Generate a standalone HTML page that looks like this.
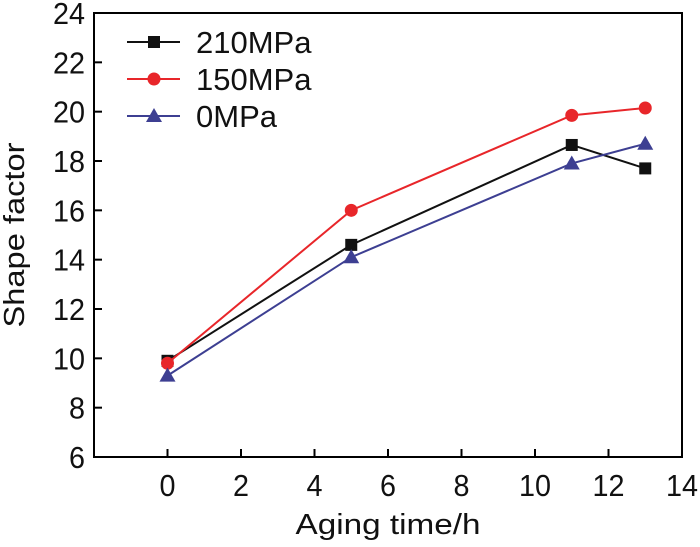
<!DOCTYPE html>
<html><head><meta charset="utf-8"><style>
body{margin:0;background:#fff;}
svg{display:block;font-family:"Liberation Sans",Arial,sans-serif;}
</style></head><body>
<svg id="chart" width="700" height="547" viewBox="0 0 700 547" xmlns="http://www.w3.org/2000/svg"></svg>
<script>
const xTicks=[0,2,4,6,8,10,12,14];
const yTicks=[6,8,10,12,14,16,18,20,22,24];
const times=[0,5,11,13];
const s210=[9.9,14.6,18.65,17.7];
const s150=[9.8,16.0,19.85,20.15];
const s0=[9.3,14.1,17.9,18.7];
const seriesNames=["210MPa","150MPa","0MPa"];

const L=94,R=682,T=13,B=457;
const X=v=>L+(v+2)/16*(R-L);
const Y=v=>B-(v-6)/18*(B-T);
const svg=document.getElementById('chart');
const NS='http://www.w3.org/2000/svg';
function mk(tag,attrs,parent){const e=document.createElementNS(NS,tag);for(const k in attrs)e.setAttribute(k,attrs[k]);(parent||svg).appendChild(e);return e;}

const frame=mk('rect',{x:L,y:T,width:R-L,height:B-T,fill:'none',stroke:'#000','stroke-width':2});



xTicks.forEach(t=>{
  const l=mk('line',{x1:X(t),x2:X(t),y1:B,y2:B-8,stroke:'#000','stroke-width':2});
  
  
  const tx=mk('text',{x:X(t),y:B+39,'text-anchor':'middle','font-size':31,fill:'#111',textLength:String(t).length*16,lengthAdjust:'spacingAndGlyphs'});
  tx.textContent=t;
  
  
});
yTicks.forEach(t=>{
  const l=mk('line',{x1:L,x2:L+8,y1:Y(t),y2:Y(t),stroke:'#000','stroke-width':2});
  
  
  const tx=mk('text',{x:L-9,y:Y(t)+11,'text-anchor':'end','font-size':31,fill:'#111',textLength:String(t).length*16,lengthAdjust:'spacingAndGlyphs'});
  tx.textContent=t;
  
  
});
const xt=mk('text',{x:(L+R)/2,y:534,'text-anchor':'middle','font-size':29,fill:'#111',textLength:185,lengthAdjust:'spacingAndGlyphs'});
xt.textContent='Aging time/h';


const yt=mk('text',{x:0,y:0,'text-anchor':'middle','font-size':29,fill:'#111',textLength:185,lengthAdjust:'spacingAndGlyphs',transform:`translate(24,${(T+B)/2}) rotate(-90)`});
yt.textContent='Shape factor';



function marker(kind,cx,cy,color,parent){
  if(kind==='sq') return mk('rect',{x:cx-6,y:cy-6,width:12,height:12,fill:color},parent);
  if(kind==='ci') return mk('circle',{cx:cx,cy:cy,r:6.5,fill:color},parent);
  return mk('polygon',{points:`${cx},${cy-8} ${cx-8},${cy+6} ${cx+8},${cy+6}`,fill:color},parent);
}
const series=[[s210,'#111','sq'],[s150,'#e8262a','ci'],[s0,'#3d3f92','tr']];
series.forEach(([vals,color,kind],i)=>{
  const g=mk('g',{});
  
  
  const p=mk('polyline',{points:vals.map((v,j)=>X(times[j])+','+Y(v)).join(' '),fill:'none',stroke:color,'stroke-width':2},g);
  
  
  vals.forEach((v,j)=>{
    const m=marker(kind,X(times[j]),Y(v),color,g);
    
    
  });
  const ly=42+i*37;
  const lg=mk('g',{});
  
  
  mk('line',{x1:127,x2:180,y1:ly,y2:ly,stroke:color,'stroke-width':2},lg);
  marker(kind,154,ly,color,lg);
  const t=mk('text',{x:196,y:ly+11,'font-size':31,fill:'#111'},lg);
  t.textContent=seriesNames[i];
});
</script>
</body></html>
